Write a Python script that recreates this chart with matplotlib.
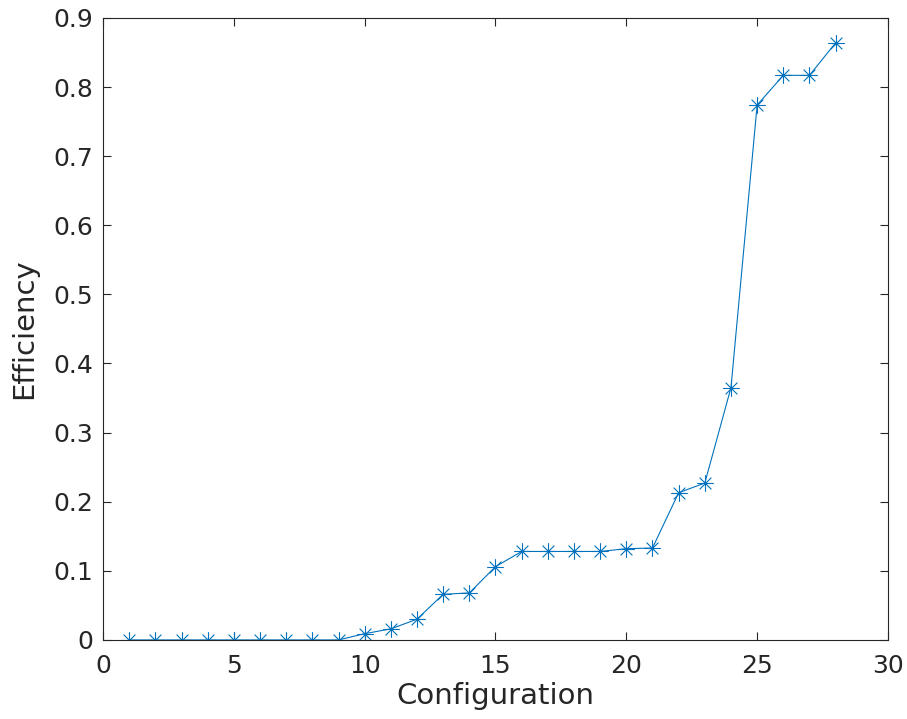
import matplotlib
matplotlib.use('Agg')
import matplotlib.pyplot as plt
from matplotlib.path import Path

# data
config = list(range(1, 29))
efficiency = [0, 0, 0, 0, 0, 0, 0, 0, 0, 0.009, 0.016, 0.030, 0.066, 0.068,
              0.106, 0.128, 0.128, 0.128, 0.128, 0.132, 0.133, 0.213, 0.227,
              0.365, 0.774, 0.817, 0.817, 0.864]

x_ticks = [0, 5, 10, 15, 20, 25, 30]
y_ticks = [0, 0.1, 0.2, 0.3, 0.4, 0.5, 0.6, 0.7, 0.8, 0.9]

# MATLAB-style asterisk: + and x overlaid
d = 0.7071
asterisk = Path([(-1, 0), (1, 0), (0, -1), (0, 1), (-d, -d), (d, d), (-d, d), (d, -d)],
                [Path.MOVETO, Path.LINETO] * 4)

plt.rcParams['font.family'] = ['DejaVu Sans']
fig = plt.figure(figsize=(9.07, 7.19), dpi=100)
ax = fig.add_axes([0.1136, 0.110, 0.8654, 0.865])

ax.plot(config, efficiency, color='#0072BD', linewidth=0.8, marker=asterisk,
        markersize=12, markeredgewidth=0.8, markerfacecolor='none')

ax.set_xlim(0, 30)
ax.set_ylim(0, 0.9)
ax.set_xticks(x_ticks)
ax.set_yticks(y_ticks)
ax.set_yticklabels(['0'] + [f'{v:.1f}' for v in y_ticks[1:]])
ax.tick_params(direction='in', length=6, width=0.8, labelsize=18,
               colors='#262626', top=True, right=True, labeltop=False, labelright=False)
ax.tick_params(axis='x', pad=10)
ax.tick_params(axis='y', pad=7)
for s in ax.spines.values():
    s.set_color('#262626')
    s.set_linewidth(0.8)

ax.set_xlabel('Configuration', fontsize=21, color='#262626', labelpad=3)
ax.set_ylabel('Efficiency', fontsize=21, color='#262626', labelpad=11)

fig.savefig('out.png', dpi=100)
